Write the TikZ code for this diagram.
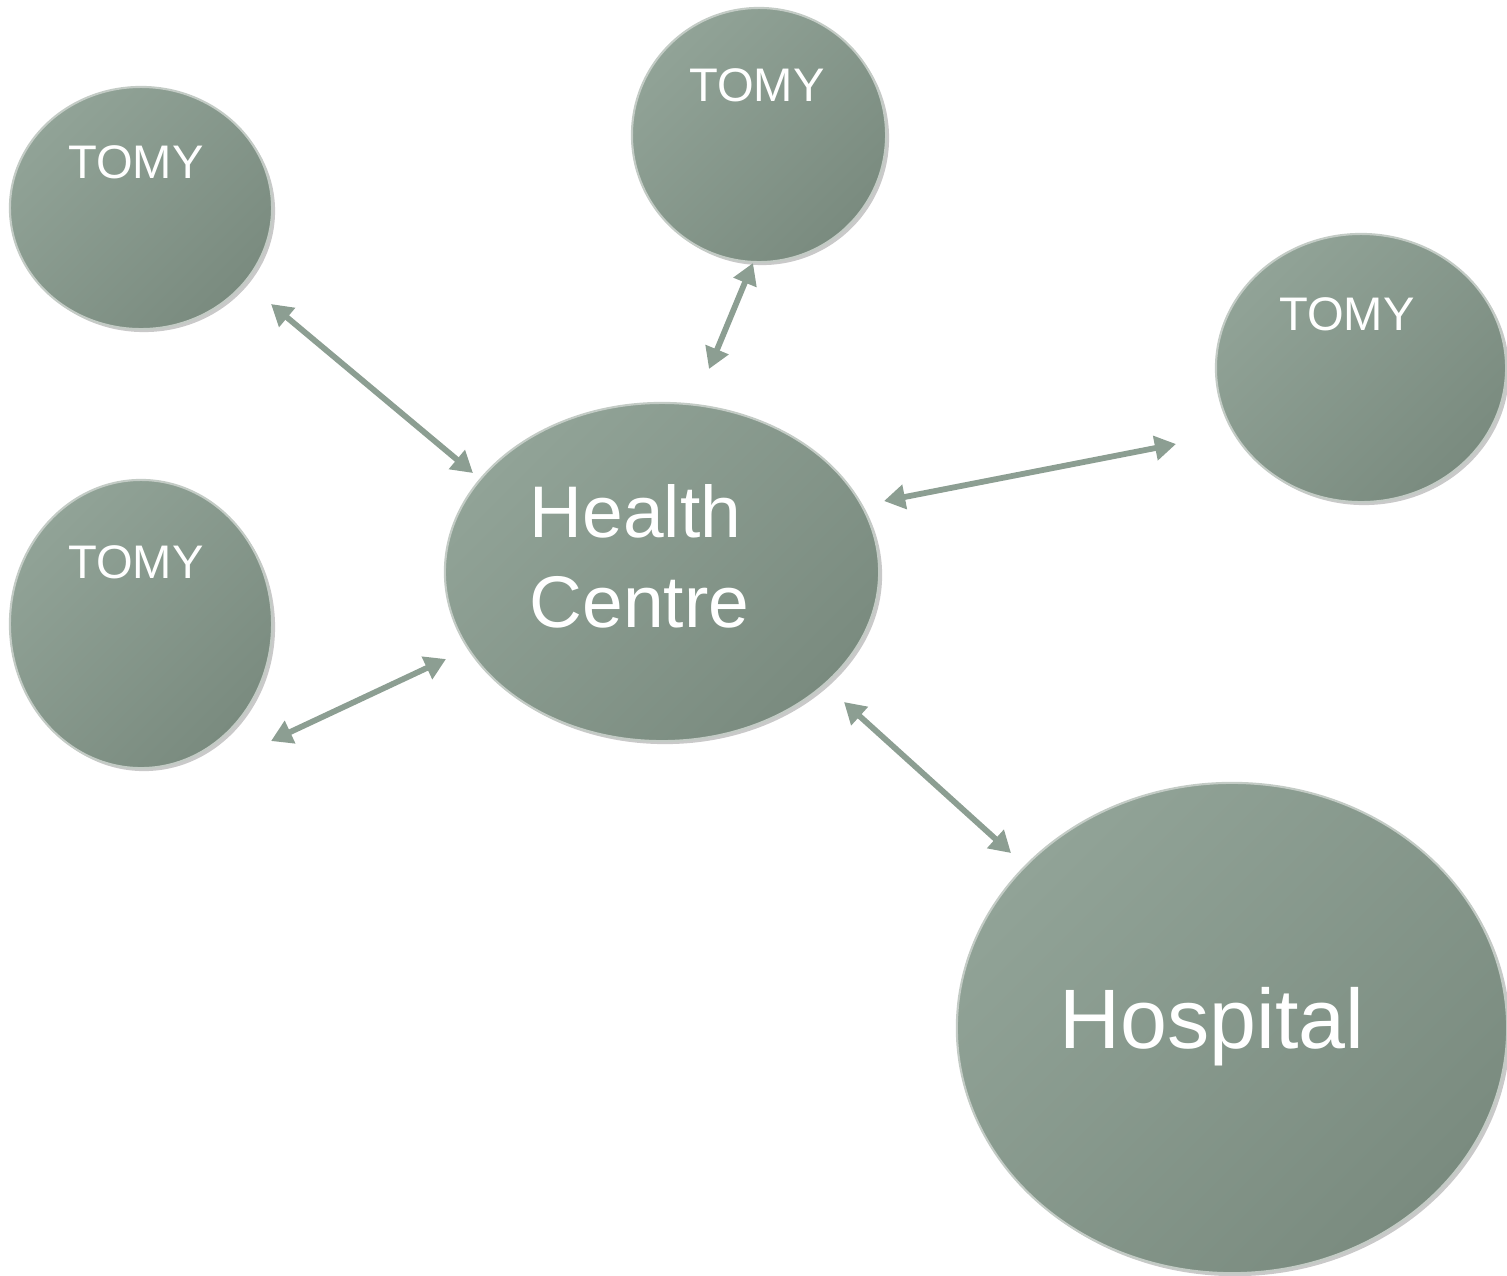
\documentclass[tikz,border=0pt]{standalone}
\usepackage{fontspec}
\setmainfont{Liberation Sans}
\usetikzlibrary{shapes.geometric,arrows.meta,shadows}
\definecolor{bubblelight}{HTML}{91A397}
\definecolor{bubbledark}{HTML}{7A8B7F}
\definecolor{arrowcol}{HTML}{8C9E92}
\begin{document}
\begin{tikzpicture}[x=0.01cm,y=-0.01cm,
  bubble/.style={ellipse, inner sep=0pt, top color=bubblelight, bottom color=bubbledark, shading angle=45,
    draw=white!55!bubbledark, line width=0.6pt,
    drop shadow={shadow xshift=0.03cm, shadow yshift=-0.03cm, opacity=0.3, fill=black!70}},
  tomytext/.style={text=white, inner sep=0pt, font=\fontsize{13.4}{16}\selectfont},
  link/.style={draw=arrowcol, line width=1.65pt, {Triangle[length=6pt,width=6.8pt]}-{Triangle[length=6pt,width=6.8pt]}}]
\useasboundingbox (0,0) rectangle (1507,1275);
% bubbles
\node[bubble, minimum width=2.62cm, minimum height=2.42cm] (tomyA) at (141,208) {};
\node[bubble, minimum width=2.54cm, minimum height=2.54cm] (tomyB) at (759,135) {};
\node[bubble, minimum width=2.90cm, minimum height=2.68cm] (tomyC) at (1361,368) {};
\node[bubble, minimum width=2.62cm, minimum height=2.88cm] (tomyD) at (141,624) {};
\node[bubble, minimum width=4.34cm, minimum height=3.38cm] (hc) at (662,572) {};
\node[bubble, minimum width=5.50cm, minimum height=4.90cm] (hosp) at (1232,1028) {};
% texts
\node[tomytext] (tA) at (136,162) {TOMY};
\node[tomytext] (tB) at (757,85) {TOMY};
\node[tomytext] (tC) at (1347,314) {TOMY};
\node[tomytext] (tD) at (136,562) {TOMY};
\node[text=white, inner sep=0pt, anchor=west, align=left, font=\fontsize{20.8}{25.6}\selectfont] (hcText) at (529,556) {Health\\Centre};
\node[text=white, inner sep=0pt, font=\fontsize{24}{28}\selectfont] (hospText) at (1212,1027) {Hospital};
% arrow end points
\coordinate (a1s) at (271,304); \coordinate (a1e) at (473,473);
\coordinate (a2s) at (753,263); \coordinate (a2e) at (709,369);
\coordinate (a3s) at (884,501); \coordinate (a3e) at (1176,444);
\coordinate (a4s) at (271,741); \coordinate (a4e) at (446,659);
\coordinate (a5s) at (844,702); \coordinate (a5e) at (1011,853);
\draw[link] (a1s) -- (a1e);
\draw[link] (a2s) -- (a2e);
\draw[link] (a3s) -- (a3e);
\draw[link] (a4s) -- (a4e);
\draw[link] (a5s) -- (a5e);
\end{tikzpicture}
\end{document}
